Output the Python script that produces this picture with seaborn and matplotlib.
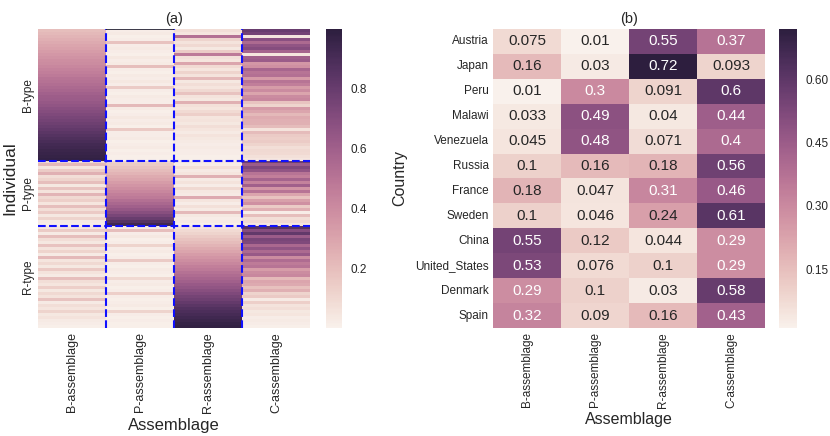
import numpy as np
import pandas as pd
import matplotlib
matplotlib.use("Agg")
import matplotlib.pyplot as plt
import seaborn as sns

sns.set_theme(style="white")
plt.rcParams['font.family'] = ['Liberation Sans', 'DejaVu Sans']

assemblages = ["B-assemblage", "P-assemblage", "R-assemblage", "C-assemblage"]
type_labels = ["B-type", "P-type", "R-type"]

# ---- panel (a): individuals, grouped by type ----
btype_B = [0.20,0.22,0.24,0.26,0.28,0.30,0.31,0.33,0.35,0.37,0.39,0.40,0.42,0.44,0.46,
           0.48,0.50,0.51,0.53,0.55,0.57,0.59,0.61,0.62,0.64,0.66,0.68,0.70,0.72,0.74,
           0.76,0.78,0.80,0.82,0.84,0.86,0.88,0.90,0.92,0.93,0.95,0.96,0.97,0.98]
btype_P = [0.02,0.03,0.01,0.02,0.18,0.02,0.03,0.02,0.01,0.04,0.02,0.03,0.20,0.02,0.01,
           0.03,0.02,0.04,0.02,0.15,0.02,0.01,0.03,0.02,0.02,0.22,0.03,0.01,0.02,0.04,
           0.02,0.03,0.01,0.16,0.02,0.02,0.03,0.01,0.02,0.03,0.01,0.02,0.01,0.01]
btype_R = [0.08,0.05,0.52,0.12,0.06,0.10,0.04,0.15,0.48,0.07,0.05,0.30,0.09,0.05,0.12,
           0.06,0.22,0.04,0.08,0.05,0.10,0.18,0.06,0.04,0.25,0.07,0.05,0.09,0.14,0.05,
           0.06,0.04,0.08,0.05,0.03,0.06,0.04,0.03,0.02,0.03,0.02,0.02,0.01,0.01]
btype_C = [0.80,0.76,0.05,0.68,0.55,0.66,0.70,0.58,0.05,0.60,0.62,0.35,0.38,0.57,0.50,
           0.52,0.34,0.50,0.46,0.33,0.40,0.30,0.40,0.42,0.18,0.12,0.34,0.30,0.22,0.27,
           0.26,0.25,0.21,0.06,0.21,0.15,0.14,0.15,0.12,0.08,0.10,0.09,0.07,0.05]

ptype_B = [0.10,0.22,0.05,0.15,0.25,0.08,0.12,0.20,0.04,0.18,0.06,0.24,0.10,0.14,0.05,
           0.20,0.08,0.16,0.04,0.12,0.03,0.02]
ptype_P = [0.12,0.15,0.18,0.21,0.24,0.27,0.30,0.33,0.36,0.39,0.42,0.45,0.48,0.52,0.56,
           0.60,0.64,0.69,0.74,0.80,0.86,0.93]
ptype_R = [0.04,0.02,0.08,0.03,0.05,0.25,0.03,0.06,0.02,0.10,0.04,0.03,0.28,0.05,0.02,
           0.07,0.03,0.22,0.04,0.02,0.03,0.01]
ptype_C = [0.78,0.62,0.72,0.66,0.50,0.45,0.58,0.44,0.60,0.36,0.50,0.30,0.18,0.32,0.38,
           0.15,0.26,0.02,0.20,0.08,0.10,0.05]

rtype_B = [0.05,0.15,0.03,0.20,0.08,0.04,0.18,0.06,0.12,0.03,0.22,0.05,0.10,0.04,0.16,
           0.06,0.03,0.20,0.08,0.05,0.14,0.04,0.10,0.06,0.18,0.03,0.08,0.05,0.12,0.04,
           0.06,0.03,0.02,0.01]
rtype_P = [0.03,0.20,0.02,0.04,0.01,0.02,0.12,0.02,0.03,0.01,0.02,0.15,0.02,0.01,0.03,
           0.02,0.01,0.10,0.02,0.03,0.01,0.02,0.14,0.02,0.01,0.02,0.03,0.01,0.12,0.02,
           0.01,0.02,0.01,0.01]
rtype_R = [0.06,0.09,0.12,0.15,0.18,0.21,0.24,0.27,0.30,0.33,0.36,0.39,0.42,0.45,0.48,
           0.51,0.54,0.57,0.60,0.63,0.66,0.69,0.72,0.75,0.78,0.81,0.84,0.87,0.89,0.91,
           0.93,0.95,0.97,0.98]
rtype_C = [0.86,0.70,0.82,0.62,0.74,0.72,0.56,0.66,0.55,0.63,0.40,0.54,0.47,0.50,0.33,
           0.40,0.42,0.22,0.30,0.28,0.19,0.25,0.12,0.16,0.03,0.14,0.06,0.08,0.04,0.05,
           0.02,0.03,0.02,0.01]

# ---- panel (b): countries ----
countries = ["Austria", "Japan", "Peru", "Malawi", "Venezuela", "Russia", "France",
             "Sweden", "China", "United_States", "Denmark", "Spain"]
country_B = [0.075, 0.16, 0.01, 0.033, 0.045, 0.1, 0.18, 0.1, 0.55, 0.53, 0.29, 0.32]
country_P = [0.01, 0.03, 0.3, 0.49, 0.48, 0.16, 0.047, 0.046, 0.12, 0.076, 0.1, 0.09]
country_R = [0.55, 0.72, 0.091, 0.04, 0.071, 0.18, 0.31, 0.24, 0.044, 0.1, 0.03, 0.16]
country_C = [0.37, 0.093, 0.6, 0.44, 0.4, 0.56, 0.46, 0.61, 0.29, 0.29, 0.58, 0.43]

ind = pd.DataFrame({
    "B-assemblage": btype_B + ptype_B + rtype_B,
    "P-assemblage": btype_P + ptype_P + rtype_P,
    "R-assemblage": btype_R + ptype_R + rtype_R,
    "C-assemblage": btype_C + ptype_C + rtype_C,
})
nB, nP, nR = len(btype_B), len(ptype_B), len(rtype_B)

ctry = pd.DataFrame({
    "B-assemblage": country_B, "P-assemblage": country_P,
    "R-assemblage": country_R, "C-assemblage": country_C,
}, index=countries)

cmap = sns.cubehelix_palette(light=.95, as_cmap=True)

fig = plt.figure(figsize=(8.3, 4.36), dpi=100)
ax1 = fig.add_axes([0.0458, 0.2477, 0.3277, 0.686])
cax1 = fig.add_axes([0.3928, 0.2477, 0.0193, 0.686])
ax2 = fig.add_axes([0.594, 0.2477, 0.3277, 0.686])
cax2 = fig.add_axes([0.9386, 0.2477, 0.0217, 0.686])

sns.heatmap(ind, ax=ax1, cbar_ax=cax1, cmap=cmap, vmin=0, vmax=1,
            yticklabels=False, xticklabels=assemblages)
ax1.set_yticks([nB / 2, nB + nP / 2, nB + nP + nR / 2])
ax1.set_yticklabels(type_labels, rotation=90, va="center", fontsize=8.5)
ax1.set_xticklabels(assemblages, rotation=90, fontsize=9)
for x in (1, 2, 3):
    ax1.axvline(x, color="#1010ff", ls="--", lw=1.5)
for y in (nB, nB + nP):
    ax1.axhline(y, color="#1010ff", ls="--", lw=1.5)
ax1.hlines(0.05, 1, 2, color="#1a1a2e", lw=1.2)
ax1.set_title("(a)", fontsize=10.5, pad=4)
ax1.set_ylabel("Individual", fontsize=12.5, labelpad=3)
ax1.set_xlabel("Assemblage", fontsize=12, labelpad=4)

sns.heatmap(ctry, ax=ax2, cbar_ax=cax2, cmap=cmap, annot=True,
            annot_kws={"size": 11})
ax2.set_yticklabels(countries, rotation=0, fontsize=8.5)
ax2.set_xticklabels(assemblages, rotation=90, fontsize=8.5)
ax2.set_title("(b)", fontsize=10.5, pad=4)
ax2.set_ylabel("Country", fontsize=11.5, labelpad=6)
ax2.set_xlabel("Assemblage", fontsize=11.5, labelpad=3)

cb1 = ax1.collections[0].colorbar
cb1.set_ticks([0.2, 0.4, 0.6, 0.8])
cb1.set_ticklabels(["0.2", "0.4", "0.6", "0.8"])
cb1.ax.tick_params(labelsize=8.5, length=0, pad=6)
cb2 = ax2.collections[0].colorbar
cb2.set_ticks([0.15, 0.30, 0.45, 0.60])
cb2.set_ticklabels(["0.15", "0.30", "0.45", "0.60"])
cb2.ax.tick_params(labelsize=8.5, length=0, pad=6)

for ax in (ax1, ax2):
    ax.tick_params(length=0, pad=3)

fig.savefig("out.png", dpi=100)
